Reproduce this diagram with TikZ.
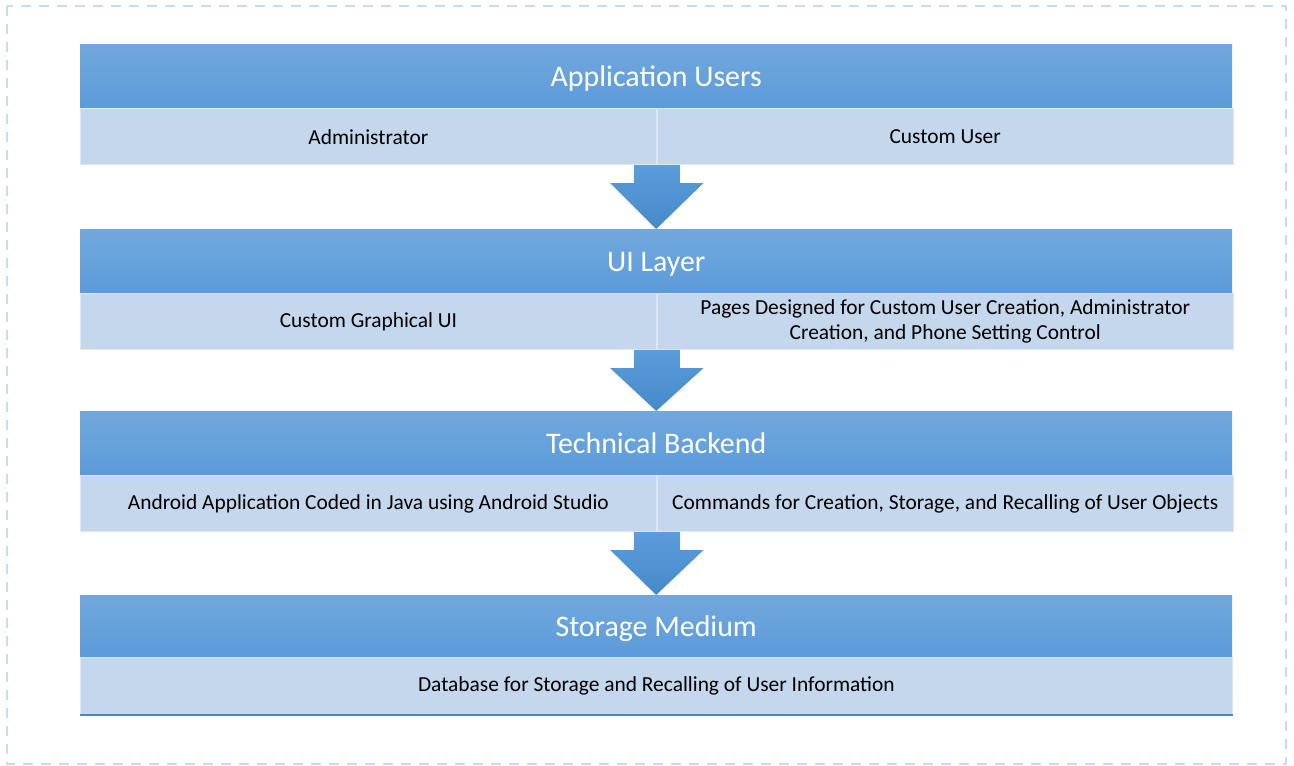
\documentclass[tikz,border=0pt]{standalone}
\usepackage{fontspec}
\setmainfont{Carlito}
\usetikzlibrary{calc}
\definecolor{hdtop}{HTML}{72A8DD}
\definecolor{hdbot}{HTML}{5B9BD9}
\definecolor{subfill}{HTML}{C5D7EC}
\definecolor{subedge}{HTML}{DCE7F4}
\definecolor{arrtop}{HTML}{5B9DDB}
\definecolor{arrbot}{HTML}{4689CA}
\definecolor{dashc}{HTML}{C6DCF0}
\definecolor{bline}{HTML}{4A86C4}
\begin{document}
\begin{tikzpicture}[x=1bp,y=-1bp,
  header/.style={anchor=north west, minimum width=1152bp, minimum height=64bp, inner sep=0pt,
    top color=hdtop, bottom color=hdbot, text=white, font=\fontsize{30}{35}\selectfont,
    text height=20bp, text depth=0bp},
  cell/.style={anchor=north west, minimum width=576bp, minimum height=56bp, inner sep=0pt,
    fill=subfill, draw=subedge, line width=0.8bp, text=black, align=center,
    font=\fontsize{21.5}{25}\selectfont},
  wide/.style={cell, minimum width=1152bp},
  blockarrow/.style={top color=arrtop, bottom color=arrbot, draw=none}
]
\useasboundingbox (0,0) rectangle (1294,766);
\draw[dashc, line width=2bp, dash pattern=on 10bp off 8bp] (7,6) rectangle (1286,764);

% layer 1
\node[header] (h1) at (80,44) {Application Users};
\node[cell] (a1) at (h1.south west) {Administrator};
\node[cell] (b1) at (a1.north east) {Custom User};
% layer 2
\node[header] (h2) at (80,229) {UI Layer};
\node[cell] (a2) at (h2.south west) {Custom Graphical UI};
\node[cell] (b2) at (a2.north east) {Pages Designed for Custom User Creation, Administrator\\Creation, and Phone Setting Control};
% layer 3
\node[header] (h3) at (80,411) {Technical Backend};
\node[cell] (a3) at (h3.south west) {Android Application Coded in Java using Android Studio};
\node[cell] (b3) at (a3.north east) {Commands for Creation, Storage, and Recalling of User Objects};
% layer 4
\node[header, minimum height=62bp] (h4) at (80,595) {Storage Medium};
\node[wide, minimum height=57bp] (a4) at (h4.south west) {Database for Storage and Recalling of User Information};
\draw[bline, line width=2bp] (a4.south west) -- (a4.south east);

% block arrows
\foreach \s/\t in {a1/h2, a2/h3, a3/h4}{
  \shade[blockarrow]
    ($(\s.south east)+(-23,0)$) -- ($(\s.south east)+(23,0)$) -- ($(\s.south east)+(23,18)$)
    -- ($(\s.south east)+(46.5,18)$) -- (\t.north)
    -- ($(\s.south east)+(-46.5,18)$) -- ($(\s.south east)+(-23,18)$) -- cycle;
}
\end{tikzpicture}
\end{document}
